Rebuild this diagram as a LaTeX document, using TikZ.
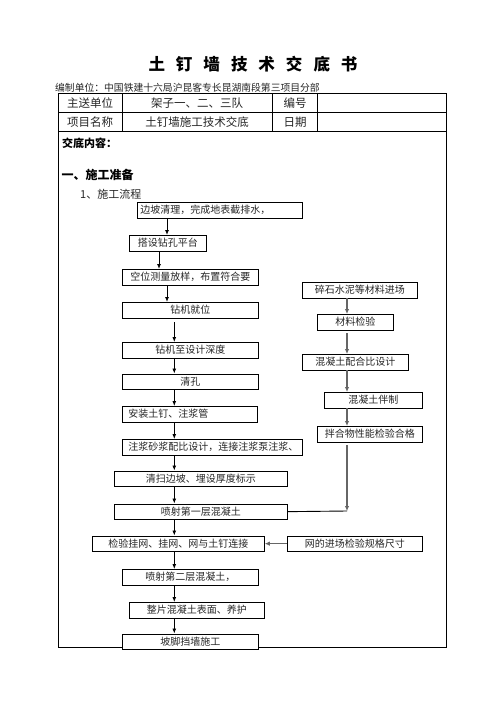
\documentclass[tikz,border=0pt]{standalone}
\usepackage{fontspec}
\setmainfont{Noto Sans CJK SC}
\usetikzlibrary{arrows.meta}
\newcommand\boxfont{\fontsize{10pt}{12pt}\selectfont}
\tikzset{
 box/.style={draw=black, line width=0.8pt, fill=white, anchor=north west, inner xsep=3pt, inner ysep=0pt, minimum height=15.5pt, font=\boxfont, text=black!85},
 lbl/.style={inner sep=0pt, anchor=west, text=black},
 arr/.style={line width=0.9pt, -{Latex[length=5pt,width=4pt]}},
 garr/.style={draw=black!60, line width=1.4pt, -{Latex[length=5pt,width=4.5pt]}},
 gline/.style={draw=black!60, line width=1.4pt},
 frame/.style={line width=1pt, draw=black},
}
\begin{document}
\begin{tikzpicture}[x=1pt,y=-1pt]
\useasboundingbox (0,0) rectangle (496,702);
\fill[white] (0,0) rectangle (496,702);
% title
\node[inner sep=0pt, font=\fontsize{16.5pt}{18pt}\selectfont\bfseries] (title) at (253,64) {土\hspace{11pt}钉\hspace{11pt}墙\hspace{11pt}技\hspace{11pt}术\hspace{11pt}交\hspace{11pt}底\hspace{11pt}书};
\node[lbl, font=\fontsize{9.8pt}{11pt}\selectfont, text=black!85] (sub) at (55,88) {编制单位：中国铁建十六局沪昆客专长昆湖南段第三项目分部};
% frame and table
\draw[frame] (58,93.5) rectangle (446.5,647);
\draw[frame] (58,112.5) -- (446.5,112.5);
\draw[frame] (58,131.5) -- (446.5,131.5);
\draw[frame] (122,93.5) -- (122,131.5);
\draw[frame] (272.5,93.5) -- (272.5,131.5);
\draw[frame] (317.5,93.5) -- (317.5,131.5);
\begin{scope}[every node/.style={inner sep=0pt, font=\fontsize{11.5pt}{13pt}\selectfont, text=black!85}]
\node (t11) at (90,103) {主送单位};
\node (t12) at (197,103) {架子一、二、三队};
\node (t13) at (295,103) {编号};
\node (t21) at (90,122) {项目名称};
\node (t22) at (197,122) {土钉墙施工技术交底};
\node (t23) at (295,122) {日期};
\end{scope}
\node[lbl, font=\fontsize{11pt}{13pt}\selectfont\bfseries] (jd) at (62,143.5) {交底内容：};
\node[lbl, font=\fontsize{12pt}{14pt}\selectfont\bfseries] (s1) at (61.5,175) {一、施工准备};
\node[lbl, font=\fontsize{11pt}{13pt}\selectfont, text=black!85] (s11) at (80,194) {1、施工流程};
% left column
\node[box, text width=159pt, align=left] (b1) at (137,202) {边坡清理，完成地表截排水，};
\node[box, minimum width=77pt] (b2) at (129,235) {搭设钻孔平台};
\node[box, minimum width=136pt] (b3) at (122,269) {空位测量放样，布置符合要};
\node[box, minimum width=136pt] (b4) at (122,302) {钻机就位};
\node[box, minimum width=136pt] (b5) at (122,342) {钻机至设计深度};
\node[box, minimum width=136pt] (b6) at (122,373.5) {清孔};
\node[box, text width=129pt, align=left] (b7) at (122,406) {\hspace*{3pt}安装土钉、注浆管};
\node[box, text width=174pt, align=left] (b8) at (122,439) {\hspace*{3pt}注浆砂浆配比设计，连接注浆泵注浆、};
\node[box, minimum width=173pt] (b9) at (114,470.5) {清扫边坡、埋设厚度标示};
\node[box, minimum width=173pt] (b10) at (114,503.5) {喷射第一层混凝土};
\node[box, minimum width=172pt] (b11) at (92,535.5) {检验挂网、挂网、网与土钉连接};
\node[box, minimum width=136pt] (b12) at (122,569) {喷射第二层混凝土，};
\node[box, minimum width=135pt] (b13) at (129,602) {整片混凝土表面、养护};
\node[box, minimum width=136pt] (b14) at (122,633.5) {坡脚挡墙施工};
% right column
\node[box, minimum width=115pt] (r1) at (302,282) {碎石水泥等材料进场};
\node[box, minimum width=76pt] (r2) at (317,314) {材料检验};
\node[box, minimum width=106pt] (r3) at (302,354) {混凝土配合比设计};
\node[box, minimum width=98pt] (r4) at (324,392) {混凝土伴制};
\node[box, minimum width=105pt] (r5) at (317,426) {拌合物性能检验合格};
\node[box, minimum width=135pt] (r6) at (287,535.5) {网的进场检验规格尺寸};
% arrow columns
\coordinate (xa) at (167,0);
\coordinate (xb) at (159,0);
\coordinate (xc) at (174.3,0);
\coordinate (xr) at (347,0);
\coordinate (corner) at (347,511);
\draw[arr] (b1.south -| xa) -- (b2.north -| xa);
\draw[arr] (b2.south -| xb) -- (b3.north -| xb);
\draw[arr] (b3.south -| xa) -- (b4.north -| xa);
\draw[arr, shorten <=4pt] (b4.south -| xc) -- (b5.north -| xc);
\draw[arr] (b5.south -| xc) -- (b6.north -| xc);
\draw[arr] (b6.south -| xc) -- (b7.north -| xc);
\draw[arr] (b7.south -| xc) -- (b8.north -| xc);
\draw[arr] (b8.south -| xc) -- (b9.north -| xc);
\draw[arr] (b9.south -| xc) -- (b10.north -| xc);
\draw[arr] (b10.south -| xc) -- (b11.north -| xc);
\draw[arr] (b11.south -| xc) -- (b12.north -| xc);
\draw[arr] (b12.south -| xc) -- (b13.north -| xc);
\draw[arr] (b13.south -| xc) -- (b14.north -| xc);
\draw[garr] (r1.south -| xr) -- (r2.north -| xr);
\draw[garr, shorten <=3pt] (r2.south -| xr) -- (r3.north -| xr);
\draw[garr] (r3.south -| xr) -- (r4.north -| xr);
\draw[garr] (r4.south -| xr) -- (r5.north -| xr);
\draw[garr, shorten <=3pt] (r5.south -| xr) -- (corner);
\draw[line width=0.9pt] (b10.east) -- (corner);
\draw[garr] (r6.west) -- (b11.east);
\end{tikzpicture}
\end{document}
